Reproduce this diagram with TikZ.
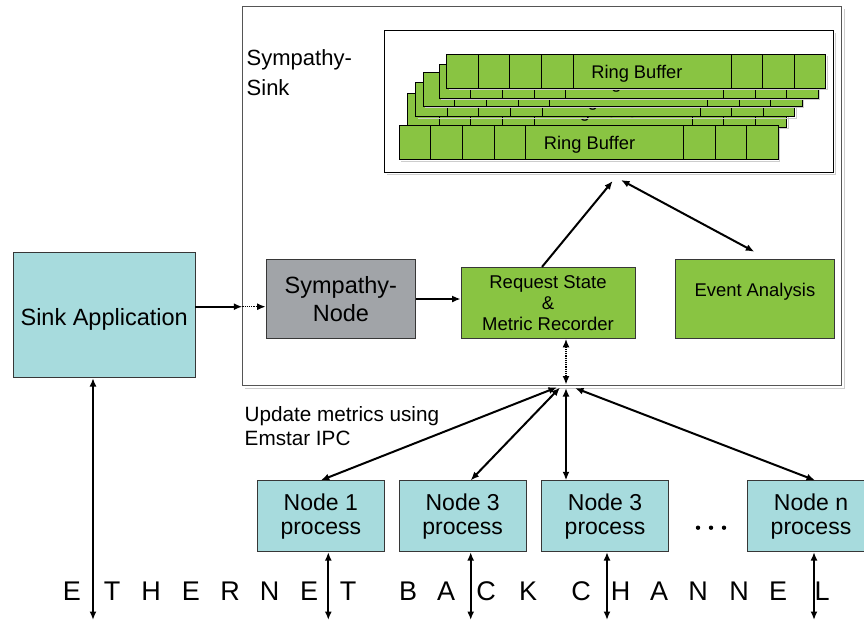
\documentclass[tikz,border=0pt]{standalone}
\usepackage{fontspec}
\setmainfont{Liberation Sans}
\usetikzlibrary{arrows.meta,calc}
\definecolor{cyanbox}{RGB}{167,219,221}
\definecolor{greenbox}{RGB}{137,196,66}
\definecolor{graybox}{RGB}{161,164,168}
\definecolor{edgec}{RGB}{55,55,55}
\definecolor{shadowc}{RGB}{205,205,205}
\newcommand\fsz[2]{\fontsize{#1}{#2}\selectfont}
\begin{document}
\begin{tikzpicture}[x=1pt,y=-1pt,
  cbox/.style={draw=edgec, line width=0.8pt, fill=cyanbox, inner sep=0pt, align=center},
  gbox/.style={draw=edgec, line width=0.8pt, fill=greenbox, inner sep=0pt, align=center},
  arr/.style={line width=2pt, -{Latex[length=8.5pt,width=7pt]}},
  darr/.style={line width=2pt, {Latex[length=8.5pt,width=7pt]}-{Latex[length=8.5pt,width=7pt]}},
  dotarr/.style={line width=1.5pt, dash pattern=on 1.2pt off 1pt, -{Latex[length=8.5pt,width=7pt]}},
  ddotarr/.style={line width=1.5pt, dash pattern=on 1.2pt off 1pt, {Latex[length=8.5pt,width=7pt]}-{Latex[length=8.5pt,width=7pt]}},
  rblayer/.style={draw=black, line width=0.8pt, fill=greenbox},
  lett/.style={anchor=base, inner sep=0pt, font=\fsz{27}{30}}]
\useasboundingbox (0,0) rectangle (864,622);
\clip (0,0) rectangle (864,622);
\fill[white] (0,0) rectangle (864,622);

% Sympathy-Sink frame
\draw[shadowc, line width=1.2pt] (844.5,9) -- (844.5,388.5) -- (245,388.5);
\node[draw=edgec!85, fill=white, line width=1pt, minimum width=599.4pt, minimum height=379.3pt, inner sep=0pt] (sink) at (542,196.3) {};
\node[anchor=north west, inner sep=0pt, align=left, font=\fsz{22}{30}] (sinklbl) at (246.5,49.7) {Sympathy-\\Sink};

% Ring buffer container
\draw[shadowc, line width=1.2pt] (835.5,33) -- (835.5,174.5) -- (387,174.5);
\node[draw=black, fill=white, line width=0.9pt, minimum width=449.3pt, minimum height=142pt, inner sep=0pt] (rbox) at (608.7,101.7) {};

% Ring buffer layers (back to front)
\foreach \lx/\ly/\nm in {407.7/93.3/b, 415.7/82.7/c, 423.3/72.3/d, 439.3/64/e, 446.7/54.3/f, 399.3/125.7/a} {
  \begin{scope}[shift={(\lx,\ly)}]
    \draw[shadowc, line width=1.2pt] (380.5,2) -- (380.5,35.5) -- (2,35.5);
    \draw[rblayer] (0,0) rectangle (379,34);
    \foreach \k in {1,2,3,4,9,10,11} \draw[line width=0.8pt] (\k*31.58,0) -- (\k*31.58,34);
    \node[anchor=base, inner sep=0pt, font=\fsz{18.3}{22}] (rb\nm) at (190.2,24) {Ring Buffer};
  \end{scope}
}

% Main boxes
\node[cbox, minimum width=181.7pt, minimum height=125.4pt, font=\fsz{23.5}{28}, text height=21pt, text depth=0pt] (sinkapp) at (104.2,315) {Sink Application};
\node[draw=edgec, line width=0.8pt, fill=graybox, inner sep=0pt, align=center, minimum width=149.7pt, minimum height=79.4pt, font=\fsz{23.5}{27.7}] (symnode) at (340.9,299) {Sympathy-\\Node};
\node[gbox, minimum width=174pt, minimum height=71.2pt, font=\fsz{18.5}{21.2}] (req) at (548,302.9) {Request State\\\&\\Metric Recorder};
\node[draw=edgec, line width=0.8pt, fill=greenbox, inner sep=0pt, minimum width=158.3pt, minimum height=79pt, font=\fsz{18.4}{22}, text height=13.4pt, text depth=19pt] (event) at (754.9,298.8) {Event Analysis};

% Node processes
\foreach \nm/\cx/\t in {n1/320.8/1, n3a/462.7/3, n3b/605/3, nn/811/n}
  \node[cbox, minimum width=126.5pt, minimum height=71pt, font=\fsz{23}{24.3}] (\nm) at (\cx,516.2) {Node \t\\process};

% ellipsis
\fill (698,527.7) circle (2.2pt);
\fill (711,527.7) circle (2.2pt);
\fill (724,527.7) circle (2.2pt);

% label
\node[anchor=north west, inner sep=0pt, align=left, font=\fsz{20.7}{24}] (upd) at (244.5,406.5) {Update metrics using\\Emstar IPC};

% Connectors inside
\coordinate (ain) at (242.3,306.7);
\draw[arr] (sinkapp.east |- ain) -- (ain);
\draw[dotarr] (ain) -- (symnode.west |- ain);
\draw[arr] (symnode.east) -- (req.west |- symnode.east);
\coordinate (rq) at (542,0);
\coordinate (rbtip) at (612.7,181);
\draw[arr] (req.north -| rq) -- (rbtip);
\coordinate (rbtip2) at (621,180);
\coordinate (evtip) at (754.3,251.7);
\draw[darr] (rbtip2) -- (evtip);

% hub
\coordinate (hubtop) at (566,384.5);
\draw[ddotarr] (req.south -| hubtop) -- (hubtop);
\coordinate (hl1) at (557,387.3);
\coordinate (hl2) at (560,387.5);
\coordinate (hv) at (566,388);
\coordinate (hr) at (575,388);
\draw[darr] (n1.north) -- (hl1);
\draw[darr] ($(n3a.north)+(8,0)$) -- (hl2);
\draw[darr] (n3b.north -| hv) -- (hv);
\draw[darr] ($(nn.north)+(4,0)$) -- (hr);

% Ethernet back channel
\foreach \ch/\lx [count=\i] in {E/72, T/112, H/151, E/191, R/230, N/269.5, E/309, T/348, B/408, A/446, C/486, K/528, C/581, H/620.5, A/659, N/698, N/739, E/778, L/822}
  \node[lett] (eth\i) at (\lx,600) {\ch};

\coordinate (e0) at (93,620);
\coordinate (e1) at (328.3,620);
\coordinate (e2) at (470.7,620);
\coordinate (e3) at (607,620);
\coordinate (e4) at (814,620);
\draw[darr] (e0 |- sinkapp.south) -- (e0);
\draw[darr] (e1 |- n1.south) -- (e1);
\draw[darr] (e2 |- n3a.south) -- (e2);
\draw[darr] (e3 |- n3b.south) -- (e3);
\draw[darr] (e4 |- nn.south) -- (e4);
\end{tikzpicture}
\end{document}
